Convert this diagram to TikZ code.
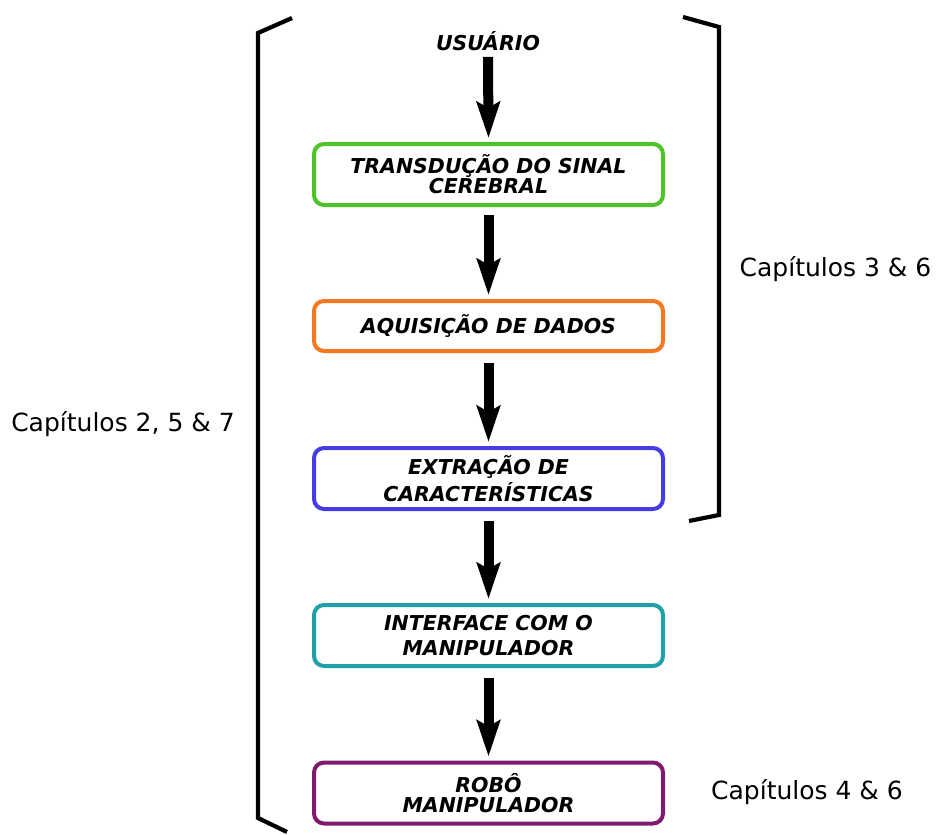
\documentclass[tikz,border=0pt]{standalone}
\usepackage{fontspec}
\setmainfont{DejaVu Sans}
\usetikzlibrary{arrows.meta}
\definecolor{cgreen}{RGB}{76,196,40}
\definecolor{corange}{RGB}{244,120,32}
\definecolor{cblue}{RGB}{68,60,228}
\definecolor{cteal}{RGB}{32,160,168}
\definecolor{cpurple}{RGB}{128,26,110}
\tikzset{
  stagebox/.style={draw, line width=4pt, rounded corners=10pt, minimum width=349pt, align=center, inner sep=2pt,
     font=\fontsize{20.5}{22}\selectfont\bfseries\itshape},
  bigarrow/.style={line width=10pt, -{Stealth[length=36pt 0, width=23pt 0, inset=6pt 0]}},
  bracketline/.style={line width=4.2pt, line join=miter},
  sidelabel/.style={font=\fontsize{25}{28}\selectfont, inner sep=0pt}
}
\begin{document}
\begin{tikzpicture}[x=1pt,y=-1pt]
\useasboundingbox (0,0) rectangle (937,835);
\node[font=\fontsize{20.5}{22}\selectfont\bfseries\itshape, inner sep=0pt] (usr) at (488,41) {USUÁRIO};
\node[stagebox, draw=cgreen, minimum height=61pt] (b1) at (488.5,174.5) {TRANSDUÇÃO DO SINAL\\[-2pt]CEREBRAL};
\node[stagebox, draw=corange, minimum height=50pt] (b2) at (488.5,326) {AQUISIÇÃO DE DADOS};
\node[stagebox, draw=cblue, minimum height=61pt] (b3) at (488.5,478.5) {EXTRAÇÃO DE\\[3pt]CARACTERÍSTICAS};
\node[stagebox, draw=cteal, minimum height=61pt] (b4) at (488.5,635.5) {INTERFACE COM O\\[3pt]MANIPULADOR};
\node[stagebox, draw=cpurple, minimum height=61pt] (b5) at (488.5,793) {ROBÔ\\[-2pt]MANIPULADOR};

\draw[bigarrow, shorten <=6pt, shorten >=4pt] (usr.south) -- (b1.north);
\draw[bigarrow, shorten <=8pt, shorten >=4pt] (b1.south) -- (b2.north);
\draw[bigarrow, shorten <=10pt, shorten >=4pt] (b2.south) -- (b3.north);
\draw[bigarrow, shorten <=10pt, shorten >=4pt] (b3.south) -- (b4.north);
\draw[bigarrow, shorten <=10pt, shorten >=4pt] (b4.south) -- (b5.north);

\draw[bracketline] (292,18) -- (258,33) -- (258,818) -- (287,832);
\draw[bracketline] (683,17) -- (719,27) -- (719,515) -- (689,521);

\node[sidelabel] (l1) at (835.5,269) {Capítulos 3 \& 6};
\node[sidelabel] (l2) at (123,424) {Capítulos 2, 5 \& 7};
\node[sidelabel] (l3) at (807,792) {Capítulos 4 \& 6};
\end{tikzpicture}
\end{document}
